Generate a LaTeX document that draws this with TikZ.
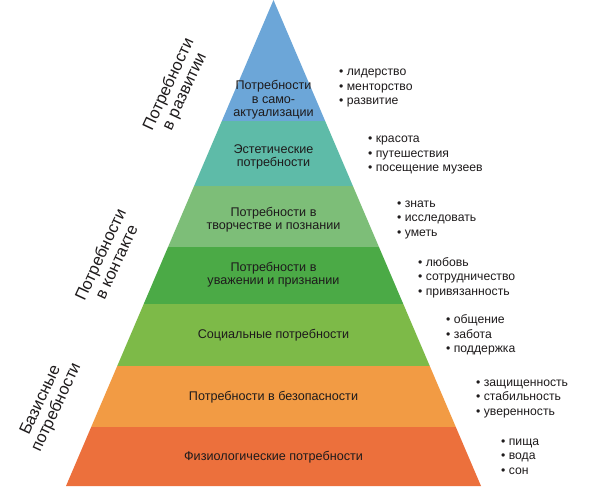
\documentclass[tikz,border=0pt]{standalone}
\usepackage{fontspec}
\setmainfont{Liberation Sans}
\definecolor{cA}{HTML}{6CA6D8}
\definecolor{cB}{HTML}{5EBBA8}
\definecolor{cC}{HTML}{7DBE78}
\definecolor{cD}{HTML}{4BAA46}
\definecolor{cE}{HTML}{7DBA48}
\definecolor{cF}{HTML}{F29B44}
\definecolor{cG}{HTML}{EC703C}
\definecolor{txt}{HTML}{1E1B1C}
\begin{document}
\begin{tikzpicture}[x=1pt,y=-1pt,
  lvl/.style={font=\fontsize{12.6}{13.5}\selectfont, align=center, text=txt, inner sep=0pt},
  lst/.style={font=\fontsize{12.2}{14.5}\selectfont, align=left, anchor=west, text=txt, inner sep=0pt},
  grp/.style={font=\fontsize{16.5}{17.5}\selectfont, align=center, rotate=65, text=txt, inner sep=0pt}]
\useasboundingbox[fill=white] (0,0) rectangle (591,496);
\begin{scope}
\clip (273.5,0) -- (481,486) -- (66,486) -- cycle;
\fill[cA] (0,-1) rectangle (591,121);
\fill[cB] (0,121) rectangle (591,186);
\fill[cC] (0,186) rectangle (591,247);
\fill[cD] (0,247) rectangle (591,304);
\fill[cE] (0,304) rectangle (591,366);
\fill[cF] (0,366) rectangle (591,427);
\fill[cG] (0,427) rectangle (591,487);
\end{scope}
% level labels
\node[lvl] (l1) at (273.5,100) {Потребности\\в само-\\актуализации};
\node[lvl] (l2) at (273.5,157) {Эстетические\\потребности};
\node[lvl] (l3) at (273.5,219.5) {Потребности в\\творчестве и познании};
\node[lvl] (l4) at (273.5,274.5) {Потребности в\\уважении и признании};
\node[lvl] (l5) at (273.5,335) {Социальные потребности};
\node[lvl] (l6) at (273.5,397) {Потребности в безопасности};
\node[lvl] (l7) at (273.5,457) {Физиологические потребности};
% lists
\node[lst] (b1) at (339,88) {• лидерство\\• менторство\\• развитие};
\node[lst] (b2) at (368,155) {• красота\\• путешествия\\• посещение музеев};
\node[lst] (b3) at (397,219.5) {• знать\\• исследовать\\• уметь};
\node[lst] (b4) at (418,277.5) {• любовь\\• сотрудничество\\• привязанность};
\node[lst] (b5) at (446,335) {• общение\\• забота\\• поддержка};
\node[lst] (b6) at (476,398.5) {• защищенность\\• стабильность\\• уверенность};
\node[lst] (b7) at (501,456.5) {• пища\\• вода\\• сон};
% group labels
\node[grp] (g1) at (177,88) {Потребности\\в развитии};
\node[grp] (g2) at (108,258) {Потребности\\в контакте};
\node[grp] (g3) at (49,404) {Базисные\\потребности};
\end{tikzpicture}
\end{document}
